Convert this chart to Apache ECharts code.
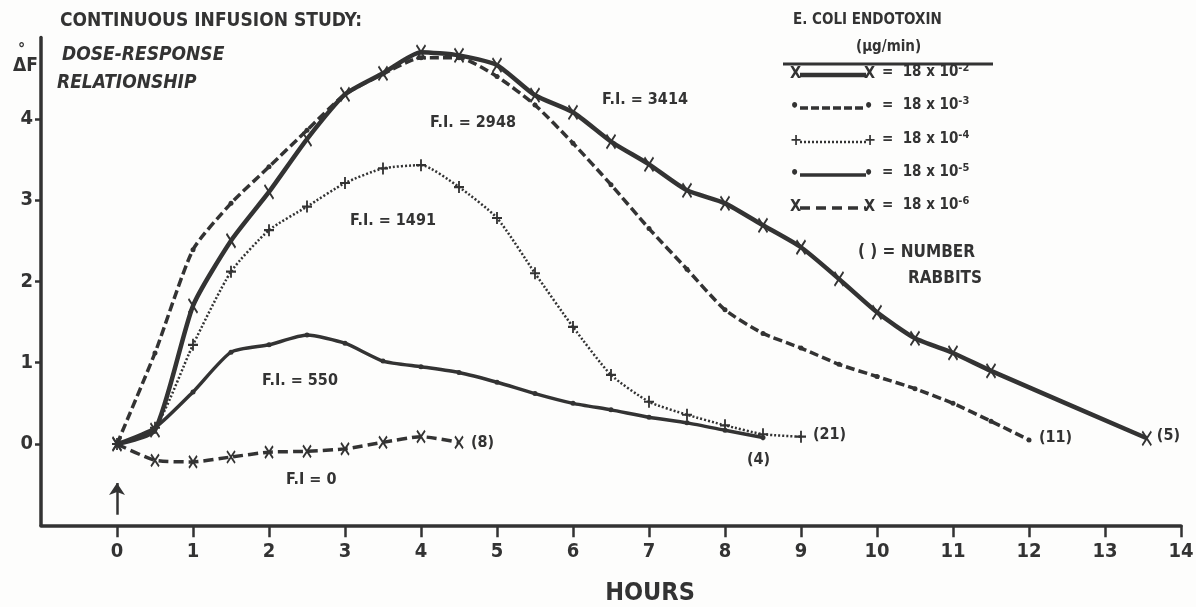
<!DOCTYPE html>
<html>
<head>
<meta charset="UTF-8">
<title>Continuous infusion study</title>
<script src="https://cdn.jsdelivr.net/npm/echarts@6/dist/echarts.min.js"></script>
<style>
  html, body { margin: 0; padding: 0; background: #fdfdfc; }
  #main { width: 1196px; height: 607px; }
</style>
</head>
<body>
<div id="main"></div>
<script>
// hours of each reading, per dose group
var hours2 = [0, 0.5, 1, 1.5, 2, 2.5, 3, 3.5, 4, 4.5, 5, 5.5, 6, 6.5, 7, 7.5, 8, 8.5, 9, 9.5, 10, 10.5, 11, 11.5, 13.55];
var hours3 = [0, 0.5, 1, 1.5, 2, 2.5, 3, 3.5, 4, 4.5, 5, 5.5, 6, 6.5, 7, 7.5, 8, 8.5, 9, 9.5, 10, 10.5, 11, 11.5, 12];
var hours4 = [0, 0.5, 1, 1.5, 2, 2.5, 3, 3.5, 4, 4.5, 5, 5.5, 6, 6.5, 7, 7.5, 8, 8.5, 9];
var hours5 = [0, 0.5, 1, 1.5, 2, 2.5, 3, 3.5, 4, 4.5, 5, 5.5, 6, 6.5, 7, 7.5, 8, 8.5];
var hours6 = [0, 0.5, 1, 1.5, 2, 2.5, 3, 3.5, 4, 4.5];

// fever (delta F)
var dose2 = [0, 0.17, 1.7, 2.5, 3.1, 3.75, 4.3, 4.56, 4.82, 4.78, 4.66, 4.29, 4.08, 3.72, 3.44, 3.12, 2.96, 2.69, 2.42, 2.03, 1.62, 1.3, 1.12, 0.9, 0.07];
var dose3 = [0, 1.12, 2.39, 2.96, 3.41, 3.86, 4.3, 4.55, 4.75, 4.75, 4.52, 4.17, 3.7, 3.19, 2.65, 2.15, 1.65, 1.36, 1.18, 0.98, 0.83, 0.68, 0.5, 0.28, 0.05];
var dose4 = [0, 0.2, 1.22, 2.12, 2.63, 2.92, 3.21, 3.39, 3.43, 3.16, 2.78, 2.1, 1.44, 0.85, 0.52, 0.36, 0.23, 0.12, 0.09];
var dose5 = [0, 0.2, 0.64, 1.13, 1.22, 1.34, 1.24, 1.02, 0.95, 0.88, 0.76, 0.62, 0.5, 0.42, 0.33, 0.26, 0.17, 0.08];
var dose6 = [0, -0.2, -0.22, -0.16, -0.1, -0.09, -0.06, 0.02, 0.09, 0.02];

var xTicks = [0, 1, 2, 3, 4, 5, 6, 7, 8, 9, 10, 11, 12, 13, 14];
var yTicks = [0, 1, 2, 3, 4];

var INK = '#333333';
var FONT = "'DejaVu Sans Condensed', 'Liberation Sans Narrow', 'DejaVu Sans', sans-serif";
var X_MARK = 'path://M0,0L8,14M8,0L0,14';
var PLUS_MARK = 'path://M5,0L5,12M0,6L10,6';

function pairs(h, v) {
    return h.map(function (x, i) { return [x, v[i]]; });
}

function countLabel(txt, offset) {
    return {
        show: true, formatter: txt, offset: offset || [0, 0],
        color: INK, fontFamily: FONT, fontWeight: 'bold', fontSize: 16
    };
}

var chart = echarts.init(document.getElementById('main'));

var txt = function (left, top, text, size, extra) {
    var st = { text: text, fill: INK, font: 'bold ' + size + 'px ' + FONT };
    if (extra) for (var k in extra) st[k] = extra[k];
    return { type: 'text', left: left, top: top, style: st, z: 10 };
};

// legend drawn by hand, like the original key
var legendRows = [
    { y: 75, dash: 'solid', width: 4.5, mark: 'X', exp: '-2' },
    { y: 108, dash: [8, 3], width: 3.5, mark: '•', exp: '-3' },
    { y: 142, dash: [2, 2], width: 2.5, mark: '+', exp: '-4' },
    { y: 175, dash: 'solid', width: 3.5, mark: '•', exp: '-5' },
    { y: 208, dash: [10, 6], width: 3.5, mark: 'X', exp: '-6' }
];
var graphics = [
    txt(60, 12, 'CONTINUOUS INFUSION STUDY:', 19),
    txt(62, 46, 'DOSE-RESPONSE', 19, { font: 'italic bold 19px ' + FONT }),
    txt(57, 74, 'RELATIONSHIP', 19, { font: 'italic bold 19px ' + FONT }),
    txt(18, 42, '°', 16),
    txt(13, 57, 'ΔF', 19),
    txt(793, 13, 'E. COLI ENDOTOXIN', 15),
    txt(856, 40, '(μg/min)', 15),
    { type: 'line', shape: { x1: 783, y1: 64, x2: 993, y2: 64 }, style: { stroke: INK, lineWidth: 3 } },
    txt(858, 244, '( ) = NUMBER', 17),
    txt(908, 270, 'RABBITS', 17),
    txt(602, 92, 'F.I. = 3414', 16),
    txt(430, 115, 'F.I. = 2948', 16),
    txt(350, 213, 'F.I. = 1491', 16),
    txt(262, 373, 'F.I. = 550', 16),
    txt(286, 472, 'F.I = 0', 16)
];
legendRows.forEach(function (r) {
    graphics.push({ type: 'line', shape: { x1: 800, y1: r.y, x2: 866, y2: r.y },
        style: { stroke: INK, lineWidth: r.width, lineDash: r.dash === 'solid' ? null : r.dash } });
    graphics.push(txt(790, r.y - 9, r.mark, 16));
    graphics.push(txt(864, r.y - 9, r.mark, 16));
    graphics.push({
        type: 'text', left: 882, top: r.y - 12, z: 10,
        style: {
            text: '=  18 x 10{s|' + r.exp + '}', fill: INK,
            font: 'bold 15px ' + FONT,
            rich: { s: { fontSize: 11, fontWeight: 'bold', fontFamily: FONT, fill: INK, verticalAlign: 'top', padding: [0, 0, 8, 0] } }
        }
    });
});

chart.setOption({
    backgroundColor: '#fdfdfc',
    animation: false,
    grid: { left: 41, right: 15, top: 37.5, bottom: 81.7, outerBoundsMode: 'none' },
    xAxis: {
        type: 'value', min: -1, max: 14, interval: 1,
        name: 'HOURS', nameLocation: 'middle', nameGap: 56,
        nameTextStyle: { color: INK, fontFamily: FONT, fontWeight: 'bold', fontSize: 25, padding: [0, 0, 0, 78] },
        axisLine: { onZero: false, lineStyle: { color: INK, width: 3.5 } },
        axisTick: { length: 12, lineStyle: { color: INK, width: 2.5 }, customValues: xTicks },
        axisLabel: { customValues: xTicks, color: INK, fontFamily: FONT, fontWeight: 'bold', fontSize: 20, margin: 16 },
        splitLine: { show: false }
    },
    yAxis: {
        type: 'value', min: -1, max: 5, interval: 1,
        axisLine: { show: true, onZero: false, lineStyle: { color: INK, width: 3.5 } },
        axisTick: { show: true, length: 6, lineStyle: { color: INK, width: 2.5 }, customValues: yTicks },
        axisLabel: { customValues: yTicks, color: INK, fontFamily: FONT, fontWeight: 'bold', fontSize: 20, margin: 8 },
        splitLine: { show: false }
    },
    graphic: graphics,
    series: [
        {
            name: '18 x 10-2', type: 'line', data: pairs(hours2, dose2), smooth: 0.2,
            symbol: X_MARK, symbolSize: [9, 14], showAllSymbol: true,
            lineStyle: { color: INK, width: 4.5 },
            itemStyle: { color: INK, borderColor: INK, borderWidth: 2 },
            endLabel: countLabel('(5)', [2, -2])
        },
        {
            name: '18 x 10-3', type: 'line', data: pairs(hours3, dose3), smooth: 0.2,
            symbol: 'circle', symbolSize: 5, showAllSymbol: true,
            lineStyle: { color: INK, width: 3.5, type: [9, 4] },
            itemStyle: { color: INK, borderWidth: 0 },
            endLabel: countLabel('(11)', [2, -2])
        },
        {
            name: '18 x 10-4', type: 'line', data: pairs(hours4, dose4), smooth: 0.2,
            symbol: PLUS_MARK, symbolSize: [10, 12], showAllSymbol: true,
            lineStyle: { color: INK, width: 2.5, type: [2, 2] },
            itemStyle: { color: INK, borderColor: INK, borderWidth: 2 },
            endLabel: countLabel('(21)', [4, -2])
        },
        {
            name: '18 x 10-5', type: 'line', data: pairs(hours5, dose5), smooth: 0.2,
            symbol: 'circle', symbolSize: 5, showAllSymbol: true,
            lineStyle: { color: INK, width: 3.5 },
            itemStyle: { color: INK, borderWidth: 0 },
            endLabel: countLabel('(4)', [-24, 22]),
            markLine: {
                silent: true, symbol: ['none', 'arrow'], symbolSize: 12,
                label: { show: false },
                lineStyle: { color: INK, width: 2.5, type: 'solid' },
                data: [[{ coord: [0, -0.87] }, { coord: [0, -0.48] }]]
            }
        },
        {
            name: '18 x 10-6', type: 'line', data: pairs(hours6, dose6), smooth: 0.2,
            symbol: X_MARK, symbolSize: [8, 12], showAllSymbol: true,
            lineStyle: { color: INK, width: 3.5, type: [10, 5] },
            itemStyle: { color: INK, borderColor: INK, borderWidth: 2 },
            endLabel: countLabel('(8)', [4, 0])
        }
    ]
});
</script>
</body>
</html>
